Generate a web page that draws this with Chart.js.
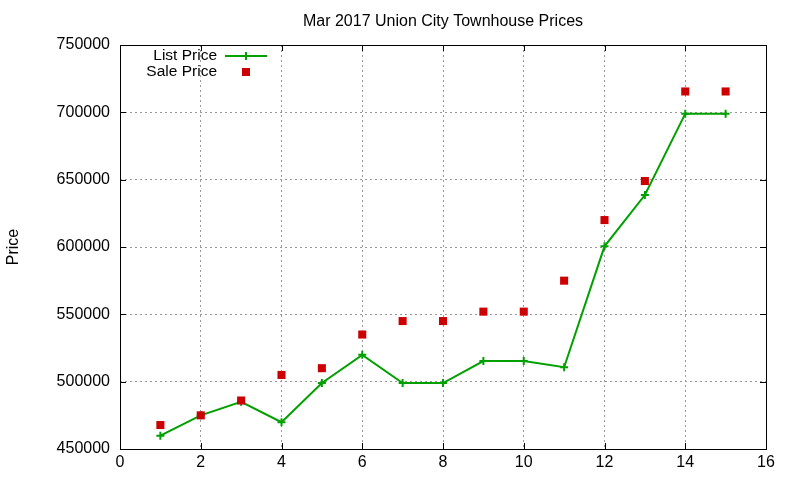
<!DOCTYPE html>
<html>
<head>
<meta charset="utf-8">
<script src="https://cdn.jsdelivr.net/npm/chart.js@4/dist/chart.umd.min.js"></script>
<style>
  html, body { margin: 0; padding: 0; background: #fff; }
  #wrap { width: 800px; height: 480px; }
</style>
</head>
<body>
<div id="wrap"><canvas id="priceChart"></canvas></div>
<script>
const months = [1, 2, 3, 4, 5, 6, 7, 8, 9, 10, 11, 12, 13, 14, 15];
const listPrice = [459900, 475000, 485000, 469900, 499000, 519900, 499000, 499000, 515300, 515300, 510700, 600500, 638600, 699000, 699000];
const salePrice = [467800, 475000, 486000, 505000, 510000, 535000, 545000, 545000, 552000, 552000, 575000, 620000, 649000, 715500, 715500];

const FONT = 'Liberation Sans, Arial, sans-serif';

// gnuplot-like frame with inward ticks on all four sides
const framePlugin = {
    id: 'frame',
    afterDraw(chart) {
        const ctx = chart.ctx;
        const a = chart.chartArea;
        const xs = chart.scales.x, ys = chart.scales.y;
        ctx.save();
        ctx.strokeStyle = '#000';
        ctx.lineWidth = 1;
        ctx.beginPath();
        xs.ticks.forEach(t => {
            const px = Math.round(xs.getPixelForValue(t.value)) + 0.5;
            ctx.moveTo(px, a.bottom); ctx.lineTo(px, a.bottom - 6);
            ctx.moveTo(px, a.top); ctx.lineTo(px, a.top + 6);
        });
        ys.ticks.forEach(t => {
            const py = Math.round(ys.getPixelForValue(t.value)) + 0.5;
            ctx.moveTo(a.left, py); ctx.lineTo(a.left + 6, py);
            ctx.moveTo(a.right, py); ctx.lineTo(a.right - 6, py);
        });
        ctx.stroke();
        ctx.strokeRect(Math.round(a.left) + 0.5, Math.round(a.top) + 0.5,
            Math.round(a.right - a.left), Math.round(a.bottom - a.top));
        ctx.restore();
    }
};

// key in the upper left corner, text right-aligned like gnuplot
const keyPlugin = {
    id: 'key',
    afterDraw(chart) {
        const ctx = chart.ctx;
        const a = chart.chartArea;
        const textRight = a.left + 97;
        const sampleX = a.left + 126;
        ctx.save();
        ctx.font = '15.5px ' + FONT;
        ctx.fillStyle = '#000';
        ctx.textAlign = 'right';
        ctx.textBaseline = 'middle';
        ctx.fillText('List Price', textRight, a.top + 11);
        ctx.fillText('Sale Price', textRight, a.top + 27);

        ctx.strokeStyle = '#00a000';
        ctx.lineWidth = 2;
        ctx.beginPath();
        ctx.moveTo(sampleX - 21, a.top + 11);
        ctx.lineTo(sampleX + 21, a.top + 11);
        ctx.moveTo(sampleX, a.top + 7);
        ctx.lineTo(sampleX, a.top + 15);
        ctx.stroke();

        ctx.fillStyle = '#cc0000';
        ctx.fillRect(sampleX - 4, a.top + 23, 8, 8);
        ctx.restore();
    }
};

new Chart(document.getElementById('priceChart'), {
    type: 'line',
    data: {
        datasets: [{
            label: 'List Price',
            data: months.map((m, i) => ({ x: m, y: listPrice[i] })),
            borderColor: '#00a000',
            backgroundColor: '#00a000',
            borderWidth: 2,
            tension: 0,
            pointStyle: 'cross',
            pointRadius: 4,
            pointBorderWidth: 2,
            pointBorderColor: '#00a000',
            order: 2
        }, {
            label: 'Sale Price',
            data: months.map((m, i) => ({ x: m, y: salePrice[i] })),
            showLine: false,
            pointStyle: 'rect',
            pointRadius: 5.7,
            pointBorderWidth: 0,
            backgroundColor: '#cc0000',
            borderColor: '#cc0000',
            order: 1
        }]
    },
    options: {
        responsive: true,
        maintainAspectRatio: false,
        animation: false,
        layout: { padding: { left: 4, right: 34, top: 0, bottom: 0 } },
        plugins: {
            legend: { display: false },
            tooltip: { enabled: false },
            title: {
                display: true,
                text: 'Mar 2017 Union City Townhouse Prices',
                fullSize: false,
                color: '#000',
                font: { family: FONT, size: 16, weight: 'normal' },
                padding: { top: 12, bottom: 13.8 }
            }
        },
        scales: {
            x: {
                type: 'linear',
                min: 0,
                max: 16,
                ticks: { stepSize: 2, color: '#000', padding: 4, font: { family: FONT, size: 16 } },
                grid: { color: '#999', drawTicks: false },
                border: { display: false, dash: [2, 3] },
                afterFit: s => { s.height = 31; }
            },
            y: {
                min: 450000,
                max: 750000,
                ticks: {
                    stepSize: 50000, color: '#000', padding: 10,
                    font: { family: FONT, size: 16 },
                    callback: v => String(v)
                },
                grid: { color: '#999', drawTicks: false },
                border: { display: false, dash: [2, 3] },
                title: {
                    display: true,
                    text: 'Price',
                    color: '#000',
                    font: { family: FONT, size: 16 },
                    padding: { top: 0, bottom: 0 }
                },
                afterFit: s => { s.width = 116; }
            }
        }
    },
    plugins: [framePlugin, keyPlugin]
});
</script>
</body>
</html>
